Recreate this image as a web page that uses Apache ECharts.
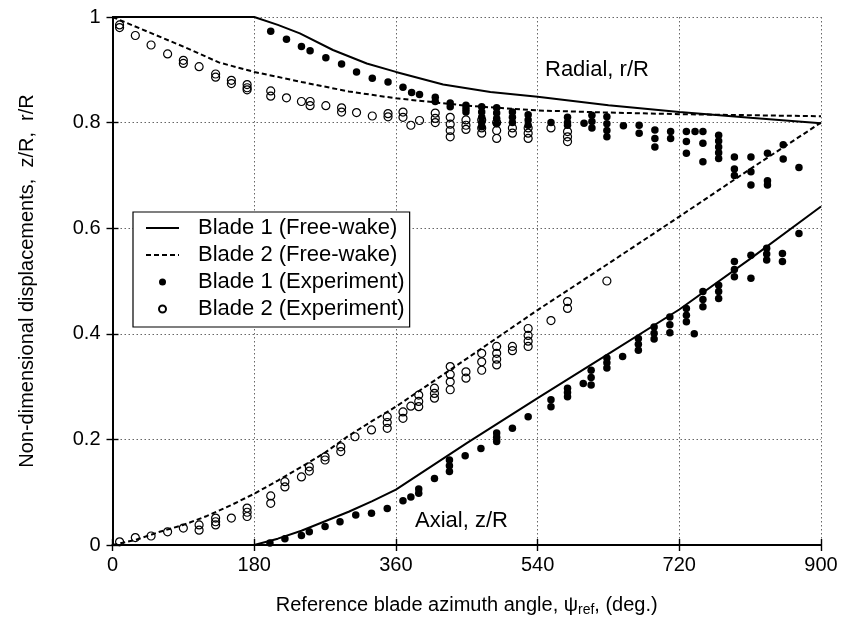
<!DOCTYPE html>
<html><head><meta charset="utf-8">
<script src="https://cdn.jsdelivr.net/npm/echarts@6/dist/echarts.min.js"></script>
<style>html,body{margin:0;padding:0;background:#fff}#c{width:846px;height:623px}</style>
</head><body><div id="c"></div>
<script>
const FONT = "'Liberation Sans', Arial, sans-serif";
const xTickInterval = 180;
const yTickInterval = 0.2;
const legendNames = ['Blade 1 (Free-wake)', 'Blade 2 (Free-wake)', 'Blade 1 (Experiment)', 'Blade 2 (Experiment)'];

// Free-wake predictions (x = azimuth deg, y = value)
const blade1RadialFW = [[0,1],[180,1],[210,0.985],[238,0.969],[280,0.9375],[323,0.912],[360,0.896],[420,0.872],[480,0.858],[540,0.849],[630,0.833],[720,0.82],[810,0.809],[900,0.799]];
const blade2RadialFW = [[0,1],[45,0.972],[90,0.944],[135,0.914],[180,0.896],[240,0.877],[300,0.859],[360,0.846],[450,0.832],[540,0.823],[630,0.819],[720,0.816],[810,0.814],[900,0.812]];
const blade1AxialFW = [[0,0],[180,0],[210,0.012],[240,0.027],[270,0.045],[300,0.063],[330,0.083],[360,0.105],[450,0.193],[540,0.278],[630,0.362],[720,0.446],[810,0.542],[900,0.641]];
const blade2AxialFW = [[0,0],[30,0.01],[60,0.025],[90,0.038],[120,0.055],[150,0.075],[180,0.097],[210,0.122],[240,0.148],[270,0.175],[300,0.207],[330,0.235],[360,0.262],[450,0.353],[540,0.445],[630,0.533],[720,0.622],[810,0.712],[900,0.80]];

// Experimental data
const blade1RadialExp = [[201,0.973],[221,0.958],[240,0.944],[251,0.936],[271,0.923],[291,0.911],[310,0.896],[330,0.884],[350,0.877],[369,0.867],[380,0.857],[390,0.853],
[410,0.848],[410,0.84],[429,0.837],[429,0.83],[449,0.833],[449,0.826],[449,0.82],
[469,0.83],[469,0.82],[469,0.81],[469,0.80],[469,0.792],
[488,0.828],[488,0.818],[488,0.808],[488,0.798],
[508,0.82],[508,0.81],[508,0.80],[528,0.815],[528,0.805],[528,0.795],[557,0.80],
[578,0.81],[578,0.80],[578,0.795],[599,0.799],[609,0.814],[609,0.802],[609,0.79],[628,0.811],[628,0.798],[628,0.785],[628,0.773],
[649,0.794],[669,0.795],[669,0.78],[689,0.786],[689,0.77],[689,0.754],[709,0.783],[709,0.77],[729,0.783],[729,0.764],[729,0.742],[740,0.783],
[750,0.783],[750,0.761],[750,0.726],[770,0.776],[770,0.765],[770,0.754],[770,0.743],[770,0.732],[790,0.735],[790,0.712],[790,0.70],
[811,0.735],[811,0.707],[811,0.682],[832,0.742],[832,0.69],[832,0.682],[852,0.758],[852,0.731],[872,0.715]];
const blade2RadialExp = [[9,0.985],[9,0.98],[29,0.965],[49,0.947],[70,0.93],[90,0.918],[90,0.912],[110,0.906],[131,0.892],[131,0.886],[151,0.88],[151,0.874],[171,0.872],[171,0.866],[171,0.862],
[201,0.86],[201,0.85],[221,0.847],[240,0.84],[251,0.84],[251,0.832],[271,0.832],[291,0.828],[291,0.82],
[310,0.819],[330,0.8125],[350,0.817],[350,0.811],[369,0.82],[369,0.81],[379,0.795],[390,0.804],
[410,0.818],[410,0.808],[410,0.80],[429,0.81],[429,0.797],[429,0.785],[429,0.773],[449,0.805],[449,0.795],[449,0.787],
[469,0.805],[469,0.79],[469,0.78],[488,0.80],[488,0.785],[488,0.77],[508,0.79],[508,0.78],[528,0.79],[528,0.78],[528,0.77],[557,0.79],
[578,0.783],[578,0.773],[578,0.764]];
const blade1AxialExp = [[200,0.004],[219,0.012],[240,0.018],[250,0.025],[270,0.035],[289,0.044],[309,0.057],[329,0.06],[349,0.069],[369,0.084],[379,0.091],[389,0.098],[389,0.106],
[409,0.126],[428,0.161],[428,0.15],[428,0.139],[448,0.169],[468,0.183],[488,0.212],[488,0.204],[488,0.196],[508,0.221],[528,0.243],[557,0.275],[557,0.262],[578,0.297],[578,0.289],[578,0.281],
[598,0.306],[608,0.331],[608,0.317],[608,0.303],[628,0.354],[628,0.345],[628,0.335],[648,0.357],[668,0.391],[668,0.38],[668,0.369],[688,0.413],[688,0.401],[688,0.39],
[708,0.432],[708,0.417],[708,0.402],[729,0.448],[729,0.435],[729,0.423],[739,0.40],[750,0.48],[750,0.465],[750,0.451],[770,0.492],[770,0.48],[770,0.467],
[790,0.537],[790,0.522],[790,0.508],[811,0.549],[811,0.505],[831,0.562],[831,0.551],[831,0.54],[851,0.552],[851,0.537],[872,0.59]];
const blade2AxialExp = [[9,0.006],[29,0.014],[49,0.017],[70,0.025],[90,0.032],[110,0.038],[110,0.028],[131,0.051],[131,0.044],[131,0.038],[151,0.051],[171,0.07],[171,0.062],[171,0.054],
[201,0.093],[201,0.079],[219,0.12],[219,0.11],[240,0.129],[250,0.148],[250,0.14],[270,0.167],[270,0.161],[290,0.186],[290,0.177],
[308,0.205],[329,0.218],[349,0.243],[349,0.232],[349,0.221],[369,0.252],[369,0.24],[379,0.263],[389,0.284],[389,0.272],[389,0.262],
[409,0.297],[409,0.287],[409,0.278],[429,0.338],[429,0.323],[429,0.309],[429,0.294],[449,0.328],[449,0.316],[469,0.363],[469,0.347],[469,0.331],
[488,0.376],[488,0.363],[488,0.352],[488,0.341],[508,0.376],[508,0.368],[528,0.41],[528,0.397],[528,0.386],[528,0.376],[557,0.425],[578,0.461],[578,0.448],[628,0.50]];

const chart = echarts.init(document.getElementById('c'), null, {renderer: 'canvas'});
const axisLine = {show: true, lineStyle: {color: '#000', width: 1.8}};
const tick = {show: true, inside: false, length: 6, lineStyle: {color: '#000', width: 1.4}};
const grid = {show: true, lineStyle: {color: '#666', width: 1, type: [1.5, 2.5]}};
const lbl = {color: '#000', fontSize: 20, fontFamily: FONT};

function lineSeries(name, data, dashed) {
  return {name, type: 'line', data, symbol: 'none', showSymbol: false, smooth: false, z: 3,
    lineStyle: {color: '#000', width: 2, type: dashed ? [5, 3] : 'solid'},
    itemStyle: {color: '#000'}};
}
const filled = {name: legendNames[2], type: 'scatter', symbol: 'circle', symbolSize: 7.5, z: 4,
  itemStyle: {color: '#000', opacity: 1}};
const open = {name: legendNames[3], type: 'scatter', symbol: 'circle', symbolSize: 8, z: 5,
  itemStyle: {color: 'rgba(255,255,255,0)', borderColor: '#000', borderWidth: 1.2, opacity: 1}};

const hiddenSym = {color: 'rgba(0,0,0,0)', borderWidth: 0, borderColor: 'rgba(0,0,0,0)'};

chart.setOption({
  backgroundColor: '#fff',
  animation: false,
  grid: {left: 112.5, right: 25, top: 17, bottom: 78},
  xAxis: [
    {type: 'value', position: 'bottom', min: 0, max: 900, interval: xTickInterval,
     axisLine, axisTick: tick, splitLine: grid,
     axisLabel: Object.assign({margin: 10}, lbl),
     name: '{n|Reference blade azimuth angle, ψ}{s|ref}{n|, (deg.)}', nameLocation: 'middle', nameGap: 48,
     nameTextStyle: {rich: {n: {fontSize: 20, fontFamily: FONT, color: '#000'}, s: {fontSize: 14, fontFamily: FONT, color: '#000', verticalAlign: 'bottom', padding: [10, 0, 0, 0]}}}},
    {type: 'value', position: 'top', min: 0, max: 900, interval: xTickInterval,
     axisLine, axisTick: tick, splitLine: {show: false}, axisLabel: {show: false}}
  ],
  yAxis: [
    {type: 'value', position: 'left', min: 0, max: 1, interval: yTickInterval,
     axisLine, axisTick: tick, splitLine: grid,
     axisLabel: Object.assign({margin: 12}, lbl),
     name: 'Non-dimensional displacements,  z/R,  r/R', nameLocation: 'middle', nameGap: 75,
     nameTextStyle: {fontSize: 20, fontFamily: FONT, color: '#000'}},
    {type: 'value', position: 'right', min: 0, max: 1, interval: yTickInterval,
     axisLine, axisTick: tick, splitLine: {show: false}, axisLabel: {show: false}}
  ],
  legend: {
    data: [
      {name: legendNames[0], itemStyle: hiddenSym},
      {name: legendNames[1], itemStyle: hiddenSym},
      {name: legendNames[2]},
      {name: legendNames[3]}
    ],
    orient: 'vertical', left: 133, top: 212,
    backgroundColor: '#fff', borderColor: '#000', borderWidth: 1.2,
    padding: [5, 5, 7, 12], itemGap: 5, itemWidth: 33, itemHeight: 7,
    textStyle: {fontSize: 22, fontFamily: FONT, color: '#000', padding: [0, 0, 0, 14]}
  },
  graphic: [
    {type: 'text', left: 545, top: 59, style: {text: 'Radial, r/R', fontSize: 22, fontFamily: FONT, fill: '#000'}},
    {type: 'text', left: 415, top: 510, style: {text: 'Axial, z/R', fontSize: 22, fontFamily: FONT, fill: '#000'}}
  ],
  series: [
    lineSeries(legendNames[0], blade1RadialFW, false),
    lineSeries(legendNames[0], blade1AxialFW, false),
    lineSeries(legendNames[1], blade2RadialFW, true),
    lineSeries(legendNames[1], blade2AxialFW, true),
    Object.assign({data: blade1RadialExp}, filled),
    Object.assign({data: blade1AxialExp}, filled),
    Object.assign({data: blade2RadialExp}, open),
    Object.assign({data: blade2AxialExp}, open)
  ]
});
</script></body></html>
